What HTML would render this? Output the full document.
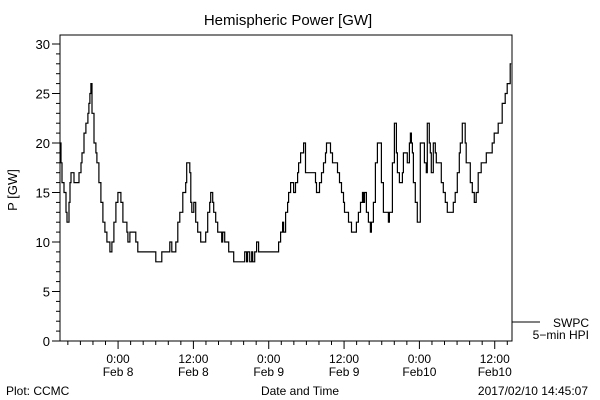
<!DOCTYPE html>
<html><head><meta charset="utf-8"><style>
body{margin:0;background:#fff;}
svg{display:block;font-family:"Liberation Sans",sans-serif;}
</style></head><body>
<svg id="chart" width="600" height="400" viewBox="0 0 600 400">
<rect width="600" height="400" fill="#fff"/>
<text x="288" y="25" font-size="15" text-anchor="middle">Hemispheric Power [GW]</text>
<rect x="60" y="35" width="452" height="306" fill="none" stroke="#000" stroke-width="1"/>
<g id="yaxis"></g>
<g id="xaxis"></g>
<text transform="translate(17,190) rotate(-90)" font-size="13" text-anchor="middle">P [GW]</text>
<text x="300" y="395" font-size="12" text-anchor="middle">Date and Time</text>
<text x="6" y="395" font-size="12">Plot: CCMC</text>
<text x="588" y="395" font-size="12" text-anchor="end">2017/02/10 14:45:07</text>
<g>
<line x1="512" y1="322" x2="540" y2="322" stroke="#000"/>
<text x="589" y="327" font-size="12" text-anchor="end">SWPC</text>
<text x="589" y="339" font-size="12" text-anchor="end">5−min HPI</text>
</g>
<path id="series" fill="none" stroke="#000" stroke-width="1.2"/>
</svg>
<script>
const hours=[0,0.16,0.32,0.64,0.95,1.11,1.27,1.43,1.59,1.75,2.07,2.23,2.86,3.02,3.34,3.5,3.82,4.13,4.45,4.61,4.77,4.93,5.09,5.41,5.72,5.88,6.2,6.52,6.84,7.16,7.47,7.95,8.27,8.59,8.9,9.22,9.54,9.7,10.02,10.34,10.65,10.81,11.13,11.77,12.08,12.4,15.1,15.26,15.9,16.22,17.17,17.49,17.81,18.13,18.44,18.76,19.08,19.56,20.03,20.19,20.51,20.67,20.83,20.99,21.31,21.62,21.94,22.42,22.74,23.21,23.53,23.85,24.01,24.33,24.49,24.8,25.12,25.44,25.76,25.92,26.24,26.55,26.87,27.67,29.26,29.42,29.73,29.89,30.21,30.53,30.69,31.01,31.32,31.64,34.66,34.82,35.14,35.46,35.62,35.93,36.25,36.41,36.73,37.05,37.21,37.52,37.84,38.0,38.32,38.64,38.8,39.11,40.39,40.7,40.86,41.18,41.34,41.66,41.98,42.29,42.45,42.93,43.09,43.41,43.88,44.2,44.52,44.84,45.16,45.32,45.63,45.95,46.27,46.43,46.91,47.22,47.54,47.86,48.18,48.34,48.5,48.81,49.13,49.45,49.61,49.93,50.24,50.56,51.04,51.2,51.52,51.99,52.31,52.47,52.95,53.27,53.58,53.74,54.06,54.38,54.54,54.7,55.17,55.33,55.65,55.81,55.97,56.13,56.29,56.6,56.92,57.24,57.4,57.88,58.04,58.35,58.51,58.83,58.99,59.15,59.47,59.78,59.94,60.42,60.74,61.06,61.37,61.69,62.49,62.65,62.96,63.28,63.6,63.76,64.08,64.39,64.55,64.71,65.19,65.35,65.67,65.99,66.3,66.62,67.1,67.9,68.85,69.17,69.48,69.8,70.44,70.91,71.23,71.71,71.87];
const power=[20,18,16,15,13,12,12,14,16,17,17,16,16,17,18,19,21,22,23,24,25,26,23,20,19,18,16,14,12,11,10,9,10,12,14,15,15,14,12,12,11,10,11,11,10,9,9,8,8,9,9,10,9,9,10,12,13,15,16,18,18,17,14,13,14,12,11,10,10,11,13,14,15,14,13,12,11,11,10,11,10,10,9,8,8,9,8,9,8,9,8,9,10,9,9,10,11,12,11,13,14,15,16,16,15,16,17,18,19,19,20,17,17,16,15,15,16,17,18,19,20,20,19,18,18,17,16,15,14,13,13,12,12,11,11,12,13,14,15,14,15,13,12,11,12,14,18,20,20,16,13,13,12,13,18,22,19,17,16,16,17,19,19,18,20,21,20,19,16,14,12,12,20,20,18,17,22,20,19,17,20,19,18,18,16,15,14,13,13,14,15,17,19,20,22,22,20,18,18,16,15,14,15,17,18,19,20,21,21,22,24,25,26,28,28];
const yTicks=[0,5,10,15,20,25,30];
const xTickLabels=[["0:00","Feb 8"],["12:00","Feb 8"],["0:00","Feb 9"],["12:00","Feb 9"],["0:00","Feb10"],["12:00","Feb10"]];
const xTickHours=[9.25,21.25,33.25,45.25,57.25,69.25];

const X0=60,X1=512,Y0=341,SPAN=72,YMAX=30,YTOP=44;
const xs=h=>X0+h/SPAN*(X1-X0);
const ys=v=>Y0-v/YMAX*(Y0-YTOP);
const NS="http://www.w3.org/2000/svg";
function mk(tag,attrs,parent){const e=document.createElementNS(NS,tag);for(const k in attrs)e.setAttribute(k,attrs[k]);parent.appendChild(e);return e;}

const ya=document.getElementById('yaxis');
for(let v=0;v<=30;v++){
  const y=ys(v);const major=v%5===0;
  const t=mk('line',{x1:X0-(major?8:4),x2:X0,y1:y,y2:y,stroke:'#000'},ya);
  
  
}
yTicks.forEach(v=>{
  const t=mk('text',{x:X0-10,y:ys(v)+5,'font-size':13,'text-anchor':'end'},ya);
  t.textContent=v;
  
  
});
const xa=document.getElementById('xaxis');
for(let h=1.25;h<=SPAN;h+=2){
  const x=xs(h);const major=xTickHours.some(m=>Math.abs(m-h)<0.01);
  const t=mk('line',{x1:x,x2:x,y1:Y0,y2:Y0+(major?8:4),stroke:'#000'},xa);
  
  
}
xTickHours.forEach((h,i)=>{
  const x=xs(h);
  const t1=mk('text',{x:x,y:363,'font-size':12,'text-anchor':'middle'},xa);
  t1.textContent=xTickLabels[i][0];
  
  
  const t2=mk('text',{x:x,y:376,'font-size':12,'text-anchor':'middle'},xa);
  t2.textContent=xTickLabels[i][1];
  
  
});
let d='';
hours.forEach((h,i)=>{
  const x=xs(h).toFixed(1),y=ys(power[i]).toFixed(1);
  if(i===0) d+='M'+x+','+y;
  else d+='H'+x+'V'+y;
});
document.getElementById('series').setAttribute('d',d);
</script>
</body></html>
